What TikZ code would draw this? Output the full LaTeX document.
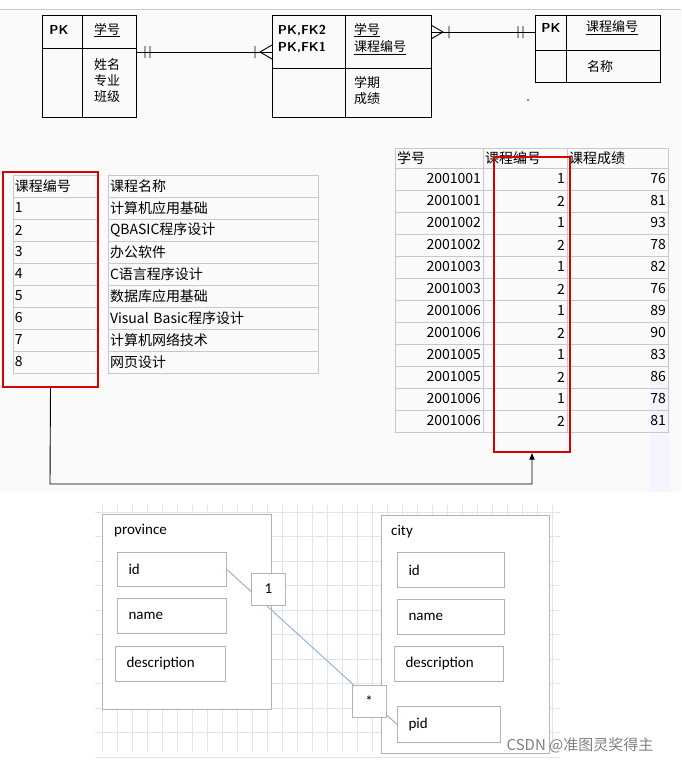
\documentclass[tikz,border=0pt]{standalone}
\usepackage{fontspec}
\setmainfont{Carlito}
\newfontfamily\cjk{Noto Sans CJK SC}
\usetikzlibrary{arrows.meta,positioning}
\definecolor{gridgray}{RGB}{228,228,228}
\definecolor{cellgray}{RGB}{200,200,200}
\definecolor{linkblue}{RGB}{150,180,215}
\begin{document}
\begin{tikzpicture}[x=1pt,y=-1pt,font=\fontsize{15}{17}\selectfont,
    erbox/.style={draw,line width=0.8pt},
    txt/.style={inner sep=0pt,font=\cjk\fontsize{13}{16}\selectfont},
    pktxt/.style={inner sep=0pt,font=\sffamily\bfseries\fontsize{13}{17}\selectfont,align=left},
    cell/.style={draw=cellgray,line width=1pt,inner sep=2pt,font=\cjk\fontsize{14}{16}\selectfont},
    redbox/.style={draw=red!85!black,line width=1.3pt},
    field/.style={draw=gray!60,line width=0.8pt,fill=white,anchor=north west,inner sep=0pt},
    card/.style={draw=gray!60,fill=white,minimum width=34pt,minimum height=32pt,inner sep=0pt}]
  \useasboundingbox (0,0) rectangle (681,764);
  \fill[black!2] (0,10) rectangle (681,492);
  \draw[gray!40,line width=1pt] (0,9) -- (681,9);
  \fill[blue!4] (650,382) rectangle (670,492);
  % ER part
  \draw[erbox] (42,15) rectangle (136,117) (42,48) -- (136,48) (82,15) -- (82,117);
  \draw[erbox] (272,15) rectangle (431,117) (272,68) -- (431,68) (345,15) -- (345,117);
  \draw[erbox] (535,15) rectangle (660,82) (535,50) -- (660,50) (566,15) -- (566,82);
  \node[pktxt] (pka) at (59,30) {PK};
  \node[txt] (xha) at (107,30) {\underline{学号}};
  \node[txt,align=left,anchor=north] (attra) at (107,58) {姓名\\专业\\班级};
  \node[pktxt] (pkb) at (302,39) {PK,FK2\\PK,FK1};
  \node[txt,anchor=west] (xhb) at (354,30) {\underline{学号}};
  \node[txt,anchor=west] (kcb) at (354,48) {\underline{课程编号}};
  \node[txt,align=left,anchor=north] (attrb) at (367,76) {学期\\成绩};
  \node[pktxt] (pkc) at (551,28) {PK};
  \node[txt] (kcc) at (612,28) {\underline{课程编号}};
  \node[txt] (mcc) at (600,67) {名称};
  \coordinate (ea) at (136,52);
  \coordinate (eb) at (272,52);
  \coordinate (ec) at (431,32);
  \coordinate (ed) at (535,32);
  \draw[line width=0.9pt] (ea) -- (eb);
  \draw[line width=0.9pt] (145,46) -- (145,58) (150,46) -- (150,58) (255,46) -- (255,58)
    (260,52) -- (272,45) (260,52) -- (272,59);
  \draw[line width=0.9pt] (ec) -- (ed);
  \draw[line width=0.9pt] (443,32) -- (431,25) (443,32) -- (431,39) (449,26) -- (449,38)
    (518,26) -- (518,38) (523,26) -- (523,38);
  \fill[red] (528,100) circle (1);
  % course table
  \foreach \n/\name [count=\i from 0] in {课程编号/课程名称,1/计算机应用基础,2/QBASIC程序设计,3/办公软件,4/C语言程序设计,5/数据库应用基础,6/Visual Basic程序设计,7/计算机网络技术,8/网页设计}{
    \node[cell,minimum width=84pt,minimum height=22pt,text width=80pt] (ca\i) at (55,{186+22*\i}) {\n};
    \node[cell,minimum width=210pt,minimum height=22pt,text width=206pt] (cb\i) at (213,{186+22*\i}) {\name};
  }
  % score table
  \node[cell,minimum width=88pt,minimum height=20pt,text width=84pt] (sa0) at (439,158) {学号};
  \node[cell,minimum width=84pt,minimum height=20pt,text width=80pt] (sb0) at (525,158) {课程编号};
  \node[cell,minimum width=101pt,minimum height=20pt,text width=97pt] (sc0) at (617.5,158) {课程成绩};
  \foreach \s/\k/\g [count=\i] in {2001001/1/76,2001001/2/81,2001002/1/93,2001002/2/78,2001003/1/82,2001003/2/76,2001006/1/89,2001006/2/90,2001005/1/83,2001005/2/86,2001006/1/78,2001006/2/81}{
    \node[cell,minimum width=88pt,minimum height=22pt,text width=84pt,align=right] (sa\i) at (439,{168+22*\i-11}) {\s};
    \node[cell,minimum width=84pt,minimum height=22pt,text width=80pt,align=right] (sb\i) at (525,{168+22*\i-11}) {\k};
    \node[cell,minimum width=101pt,minimum height=22pt,text width=97pt,align=right] (sc\i) at (617.5,{168+22*\i-11}) {\g};
  }
  \node[redbox,minimum width=95pt,minimum height=215pt,inner sep=0pt] (reda) at (50.5,279.5) {};
  \node[redbox,minimum width=76pt,minimum height=295pt,inner sep=0pt] (redb) at (532,304.5) {};
  \coordinate (bend) at (50,484);
  \draw[line width=0.9pt,-{Latex[length=7pt,width=6pt]}] (reda.south) -- (bend) -| (redb.south);
  % province / city
  \foreach \y in {512,536.5,...,757} \draw[gridgray,line width=1pt] (95,\y) -- (560,\y);
  \foreach \x in {102,117,...,560} \draw[gridgray,line width=1pt] (\x,505) -- (\x,752);
  \filldraw[draw=gray!60,fill=white,line width=0.8pt] (102,514) rectangle (271,709);
  \filldraw[draw=gray!60,fill=white,line width=0.8pt] (381,515) rectangle (549,753);
  \node[anchor=west,inner sep=0pt] (prov) at (114,531) {province};
  \node[anchor=west,inner sep=0pt] (city) at (391,532) {city};
  \node[field,minimum width=109pt,minimum height=34pt] (pid) at (117,552) {};
  \node[field,minimum width=109pt,minimum height=35pt] (pname) at (117,598) {};
  \node[field,minimum width=110pt,minimum height=35pt] (pdesc) at (115,646) {};
  \node[field,minimum width=107pt,minimum height=35pt] (cid) at (397,552) {};
  \node[field,minimum width=107pt,minimum height=35pt] (cname) at (397,599) {};
  \node[field,minimum width=109pt,minimum height=35pt] (cdesc) at (394,646) {};
  \node[field,minimum width=103pt,minimum height=36pt] (cpid) at (397,706) {};
  \node[anchor=west] at ([xshift=8pt]pid.west) {id};
  \node[anchor=west] at ([xshift=8pt]pname.west) {name};
  \node[anchor=west] at ([xshift=8pt]pdesc.west) {description};
  \node[anchor=west] at ([xshift=8pt]cid.west) {id};
  \node[anchor=west] at ([xshift=8pt]cname.west) {name};
  \node[anchor=west] at ([xshift=8pt]cdesc.west) {description};
  \node[anchor=west] at ([xshift=8pt]cpid.west) {pid};
  \draw[linkblue,line width=1pt] (pid.east) -- (cpid.west);
  \node[card] (one) at (268.5,589) {1};
  \node[card] (many) at (369,701.5) {*};
  \node[gray,font=\cjk\fontsize{15}{17}\selectfont] (mark) at (580,745) {CSDN @准图灵奖得主};
\end{tikzpicture}
\end{document}
